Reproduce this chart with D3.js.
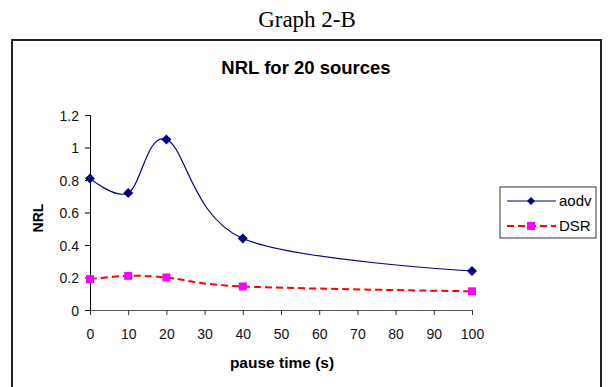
<!DOCTYPE html>
<html><head><meta charset="utf-8">
<script src="https://cdn.jsdelivr.net/npm/d3@7"></script>
<style>body{margin:0;background:#fff}svg{display:block}</style>
</head><body>
<script>
const pauseTimes = [0, 10, 20, 40, 100];
const aodvValues = [0.81, 0.72, 1.05, 0.44, 0.24];
const dsrValues = [0.19, 0.21, 0.20, 0.145, 0.115];
const xTicks = [0,10,20,30,40,50,60,70,80,90,100];
const yTicks = [0,0.2,0.4,0.6,0.8,1,1.2];
const seriesNames = ["aodv","DSR"];

const W=610,H=387;
const svg=d3.select("body").append("svg").attr("width",W).attr("height",H);
svg.append("rect").attr("width",W).attr("height",H).attr("fill","#fff");

svg.append("text").attr("x",307).attr("y",27).attr("text-anchor","middle")
  .attr("font-family","Liberation Serif, Times New Roman, serif").attr("font-size",23).text("Graph 2-B");

svg.append("rect").attr("x",12).attr("y",40).attr("width",589).attr("height",360)
  .attr("fill","none").attr("stroke","#222").attr("stroke-width",2);

const font="Liberation Sans, Arial, sans-serif";
svg.append("text").attr("x",306).attr("y",74).attr("text-anchor","middle")
  .attr("font-family",font).attr("font-weight","bold").attr("font-size",18.5).text("NRL for 20 sources");

const x=d3.scaleLinear().domain([0,100]).range([90,472]);
const y=d3.scaleLinear().domain([0,1.2]).range([310,115]);

const ya=svg.append("g").attr("transform","translate(90,0)")
  .call(d3.axisLeft(y).tickValues(yTicks).tickSize(5).tickPadding(6).tickFormat(d=>String(+d.toFixed(1))));
const xa=svg.append("g").attr("transform","translate(0,310)")
  .call(d3.axisBottom(x).tickValues(xTicks).tickSize(5).tickPadding(14).tickFormat(d3.format("d")));
[ya,xa].forEach(g=>{
  g.select(".domain").attr("stroke","#000");
  g.selectAll(".tick line").attr("stroke","#000");
  g.selectAll("text").attr("font-family",font).attr("font-size",14).attr("fill","#111");
});
xa.select(".domain").attr("stroke","#555");
xa.selectAll(".tick line").attr("stroke","#333");
ya.selectAll(".tick text").attr("dy","0.36em");

svg.append("text").attr("x",282).attr("y",368).attr("text-anchor","middle")
  .attr("font-family",font).attr("font-weight","bold").attr("font-size",15.5).text("pause time (s)");
svg.append("text").attr("transform","translate(43,218) rotate(-90)").attr("text-anchor","middle")
  .attr("font-family",font).attr("font-weight","bold").attr("font-size",14).text("NRL");

const line=d3.line().x(d=>x(d[0])).y(d=>y(d[1])).curve(d3.curveCardinal.tension(0));
const aodv=pauseTimes.map((t,i)=>[t,aodvValues[i]]);
const dsr=pauseTimes.map((t,i)=>[t,dsrValues[i]]);

svg.append("path").datum(dsr).attr("d",line).attr("fill","none").attr("stroke","#ff0000")
  .attr("stroke-width",2).attr("stroke-dasharray","7,4");
svg.append("path").datum(aodv).attr("d",line).attr("fill","none").attr("stroke","#000080").attr("stroke-width",1.2);

const diamond="M0,-5L5,0L0,5L-5,0Z";
svg.selectAll(".dm").data(aodv).enter().append("path")
  .attr("transform",d=>`translate(${x(d[0])},${y(d[1])})`).attr("d",diamond).attr("fill","#000080");
svg.selectAll(".sq").data(dsr).enter().append("rect")
  .attr("x",d=>x(d[0])-4).attr("y",d=>y(d[1])-4).attr("width",8).attr("height",8).attr("fill","#ff00ff");

// legend
const lg=svg.append("g");
lg.append("rect").attr("x",500).attr("y",187).attr("width",96).attr("height",51).attr("fill","#fff").attr("stroke","#333").attr("stroke-width",1);
lg.append("line").attr("x1",507).attr("x2",556).attr("y1",201).attr("y2",201).attr("stroke","#000080").attr("stroke-width",1.2);
lg.append("path").attr("transform","translate(531,201)").attr("d","M0,-4L4,0L0,4L-4,0Z").attr("fill","#000080");
lg.append("line").attr("x1",507).attr("x2",556).attr("y1",226).attr("y2",226).attr("stroke","#ff0000").attr("stroke-width",2).attr("stroke-dasharray","7,4");
lg.append("rect").attr("x",527).attr("y",222).attr("width",8).attr("height",8).attr("fill","#ff00ff");
lg.append("text").attr("x",559).attr("y",206).attr("font-family",font).attr("font-size",15).text(seriesNames[0]);
lg.append("text").attr("x",559).attr("y",231).attr("font-family",font).attr("font-size",15).text(seriesNames[1]);
</script>
</body></html>
